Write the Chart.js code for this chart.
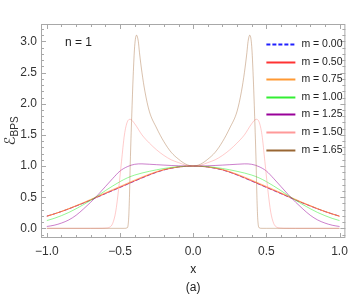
<!DOCTYPE html>
<html>
<head>
<meta charset="utf-8">
<script src="https://cdn.jsdelivr.net/npm/chart.js@4.4.0/dist/chart.umd.min.js"></script>
<style>
  html, body { margin: 0; padding: 0; background: #fff; }
</style>
</head>
<body>
<canvas id="energyChart" width="354" height="300"></canvas>
<script>
// series labels
const massLabels = ["m = 0.00", "m = 0.50", "m = 0.75", "m = 1.00", "m = 1.25", "m = 1.50", "m = 1.65"];

// common x grid for the smooth curves
const xSmooth = [
  -1.0, -0.95, -0.9, -0.85, -0.8, -0.75, -0.7, -0.65, -0.6, -0.55, -0.5,
  -0.45, -0.4, -0.35, -0.3, -0.25, -0.2, -0.15, -0.1, -0.05, 0.0,
  0.05, 0.1, 0.15, 0.2, 0.25, 0.3, 0.35, 0.4, 0.45, 0.5,
  0.55, 0.6, 0.65, 0.7, 0.75, 0.8, 0.85, 0.9, 0.95, 1.0
];

const yM000 = [
  0.197, 0.232, 0.271, 0.313, 0.359, 0.405, 0.454, 0.505, 0.556, 0.606, 0.656,
  0.707, 0.758, 0.808, 0.856, 0.9, 0.937, 0.964, 0.984, 0.996, 1.0,
  0.996, 0.984, 0.964, 0.937, 0.9, 0.856, 0.808, 0.758, 0.707, 0.656,
  0.606, 0.556, 0.505, 0.454, 0.405, 0.359, 0.313, 0.271, 0.232, 0.197
];
const yM050 = [
  0.195, 0.231, 0.27, 0.313, 0.36, 0.406, 0.456, 0.508, 0.56, 0.61, 0.66,
  0.711, 0.762, 0.812, 0.86, 0.903, 0.94, 0.966, 0.985, 0.996, 1.0,
  0.996, 0.985, 0.966, 0.94, 0.903, 0.86, 0.812, 0.762, 0.711, 0.66,
  0.61, 0.56, 0.508, 0.456, 0.406, 0.36, 0.313, 0.27, 0.231, 0.195
];
const yM075 = [
  0.193, 0.231, 0.272, 0.317, 0.365, 0.413, 0.465, 0.518, 0.571, 0.622, 0.673,
  0.724, 0.775, 0.824, 0.87, 0.911, 0.946, 0.97, 0.987, 0.997, 1.0,
  0.997, 0.987, 0.97, 0.946, 0.911, 0.87, 0.824, 0.775, 0.724, 0.673,
  0.622, 0.571, 0.518, 0.465, 0.413, 0.365, 0.317, 0.272, 0.231, 0.193
];
const yM100 = [
  0.125, 0.16, 0.204, 0.255, 0.315, 0.38, 0.45, 0.525, 0.605, 0.68, 0.75,
  0.81, 0.855, 0.888, 0.915, 0.94, 0.961, 0.978, 0.99, 0.998, 1.0,
  0.998, 0.99, 0.978, 0.961, 0.94, 0.915, 0.888, 0.855, 0.81, 0.75,
  0.68, 0.605, 0.525, 0.45, 0.38, 0.315, 0.255, 0.204, 0.16, 0.125
];
const yM125 = [
  0.03, 0.05, 0.085, 0.135, 0.21, 0.31, 0.42, 0.54, 0.67, 0.8, 0.92,
  0.99, 1.028, 1.035, 1.029, 1.022, 1.015, 1.009, 1.004, 1.001, 1.0,
  1.001, 1.004, 1.009, 1.015, 1.022, 1.029, 1.035, 1.028, 0.99, 0.92,
  0.8, 0.67, 0.54, 0.42, 0.31, 0.21, 0.135, 0.085, 0.05, 0.03
];

// the two largest masses have sharp peaks, so their own x points
const xM150 = [
  -1.0, -0.7, -0.62, -0.6, -0.57, -0.55, -0.53, -0.51, -0.49, -0.47, -0.45, -0.43,
  -0.4, -0.35, -0.3, -0.25, -0.2, -0.15, -0.1, -0.05, 0.0,
  0.05, 0.1, 0.15, 0.2, 0.25, 0.3, 0.35, 0.4,
  0.43, 0.45, 0.47, 0.49, 0.51, 0.53, 0.55, 0.57, 0.6, 0.62, 0.7, 1.0
];
const yM150 = [
  0.0, 0.0, 0.001, 0.004, 0.02, 0.08, 0.26, 0.62, 1.07, 1.5, 1.71, 1.75,
  1.68, 1.5, 1.37, 1.26, 1.17, 1.1, 1.055, 1.013, 1.0,
  1.013, 1.055, 1.1, 1.17, 1.26, 1.37, 1.5, 1.68,
  1.75, 1.71, 1.5, 1.07, 0.62, 0.26, 0.08, 0.02, 0.004, 0.001, 0.0, 0.0
];
const xM165 = [
  -1.0, -0.7, -0.5, -0.47, -0.45, -0.445, -0.44, -0.435, -0.43, -0.42, -0.41, -0.4,
  -0.387, -0.375, -0.367, -0.35, -0.33, -0.3, -0.25, -0.2, -0.15, -0.1, -0.05, 0.0,
  0.05, 0.1, 0.15, 0.2, 0.25, 0.3, 0.33, 0.35, 0.367, 0.375, 0.387,
  0.4, 0.41, 0.42, 0.43, 0.435, 0.44, 0.445, 0.45, 0.47, 0.5, 0.7, 1.0
];
const yM165 = [
  0.0, 0.0, 0.0, 0.0, 0.01, 0.05, 0.2, 0.55, 1.05, 1.8, 2.45, 2.92,
  3.1, 3.0, 2.82, 2.5, 2.2, 1.88, 1.61, 1.39, 1.22, 1.11, 1.03, 1.0,
  1.03, 1.11, 1.22, 1.39, 1.61, 1.88, 2.2, 2.5, 2.82, 3.0, 3.1,
  2.92, 2.45, 1.8, 1.05, 0.55, 0.2, 0.05, 0.01, 0.0, 0.0, 0.0, 0.0
];

const xTickValues = [-1.0, -0.5, 0.0, 0.5, 1.0];
const yTickValues = [0.0, 0.5, 1.0, 1.5, 2.0, 2.5, 3.0];

const seriesX = [xSmooth, xSmooth, xSmooth, xSmooth, xSmooth, xM150, xM165];
const seriesY = [yM000, yM050, yM075, yM100, yM125, yM150, yM165];

const legendColors = ["#2020ff", "#ff3333", "#ff9933", "#33ee33", "#990099", "#ff9999", "#996633"];
const lineColors = [
  "rgba(30, 30, 255, 0.6)",
  "rgba(255, 40, 40, 0.75)",
  "rgba(255, 150, 50, 0.6)",
  "rgba(60, 240, 60, 0.55)",
  "rgba(153, 0, 153, 0.5)",
  "rgba(255, 140, 140, 0.45)",
  "rgba(160, 100, 50, 0.4)",
];

Chart.defaults.font.family = "'Liberation Sans', Arial, sans-serif";
Chart.defaults.color = "#333";

function minusSign(v) {
  return v.toFixed(1).replace("-", "\u2212");
}

// frame with inward ticks on all four sides, like the original plot
const framePlugin = {
  id: "frame",
  afterDraw(chart) {
    const ctx = chart.ctx;
    const area = chart.chartArea;
    const xs = chart.scales.x;
    const ys = chart.scales.y;
    ctx.save();
    ctx.strokeStyle = "#a8a8a8";
    ctx.lineWidth = 1;
    ctx.strokeRect(area.left + 0.5, area.top + 0.5, area.right - area.left - 1, area.bottom - area.top - 1);

    ctx.beginPath();
    for (let i = -10; i <= 10; i++) {
      const v = i / 10;
      const px = Math.round(xs.getPixelForValue(v)) + 0.5;
      const len = i % 5 === 0 ? 5 : 3;
      ctx.moveTo(px, area.bottom);
      ctx.lineTo(px, area.bottom - len);
      ctx.moveTo(px, area.top);
      ctx.lineTo(px, area.top + len);
    }
    for (let i = -1; i <= 32; i++) {
      const v = i / 10;
      const py = Math.round(ys.getPixelForValue(v)) + 0.5;
      if (py < area.top || py > area.bottom) continue;
      const len = i % 5 === 0 ? 5 : 3;
      ctx.moveTo(area.left, py);
      ctx.lineTo(area.left + len, py);
      ctx.moveTo(area.right, py);
      ctx.lineTo(area.right - len, py);
    }
    ctx.stroke();

    // y axis title: script E with subscript BPS
    ctx.fillStyle = "#333";
    ctx.translate(11, 131);
    ctx.rotate(-Math.PI / 2);
    ctx.font = "15px 'DejaVu Sans', sans-serif";
    const wE = ctx.measureText("\u2130").width;
    ctx.font = "10px 'Liberation Sans', Arial, sans-serif";
    const wSub = ctx.measureText("BPS").width;
    const start = -(wE + wSub) / 2;
    ctx.textBaseline = "alphabetic";
    ctx.font = "15px 'DejaVu Sans', sans-serif";
    ctx.fillText("\u2130", start, 4);
    ctx.font = "10px 'Liberation Sans', Arial, sans-serif";
    ctx.fillText("BPS", start + wE, 7);
    ctx.restore();

    // n = 1 label
    ctx.save();
    ctx.fillStyle = "#222";
    ctx.font = "12px 'Liberation Sans', Arial, sans-serif";
    ctx.textBaseline = "middle";
    ctx.fillText("n = 1", area.left + 24, area.top + 19);

    // legend inside the plot, top right
    ctx.font = "10.5px 'Liberation Sans', Arial, sans-serif";
    for (let i = 0; i < massLabels.length; i++) {
      const y = Math.round(area.top + 20 + i * 17.6) + 0.5;
      ctx.beginPath();
      ctx.strokeStyle = legendColors[i];
      ctx.lineWidth = 2;
      ctx.setLineDash(i === 0 ? [4, 2] : []);
      ctx.moveTo(area.right - 79, y);
      ctx.lineTo(area.right - 50, y);
      ctx.stroke();
      ctx.fillStyle = "#222";
      ctx.fillText(massLabels[i], area.right - 44, y);
    }
    ctx.restore();
  },
};

const datasets = seriesY.map((ys, index) => {
  return {
    label: massLabels[index],
    data: ys.map((y, j) => ({ x: seriesX[index][j], y: y })),
    borderColor: lineColors[index],
    borderWidth: 1,
    borderDash: index === 0 ? [4, 2] : [],
    pointRadius: 0,
    cubicInterpolationMode: "monotone",
    fill: false,
    order: massLabels.length - index,
  };
});

const ctx = document.getElementById("energyChart").getContext("2d");
new Chart(ctx, {
  type: "line",
  data: { datasets: datasets },
  options: {
    responsive: false,
    animation: false,
    devicePixelRatio: 1,
    layout: { padding: { top: 24, right: 7, left: 0, bottom: 0 } },
    plugins: { legend: { display: false }, tooltip: { enabled: false } },
    scales: {
      x: {
        type: "linear",
        min: -1.04,
        max: 1.04,
        grid: { display: false, drawTicks: false },
        border: { display: false },
        afterBuildTicks: (scale) => {
          scale.ticks = xTickValues.map((v) => ({ value: v }));
        },
        afterFit: (scale) => {
          scale.height = 62;
        },
        ticks: {
          padding: 6,
          maxRotation: 0,
          font: { size: 12 },
          color: "#333",
          callback: (v) => minusSign(v),
        },
        title: {
          display: true,
          text: ["x", "(a)"],
          color: "#222",
          font: { size: 12, lineHeight: 1.5 },
          padding: { top: 0, bottom: 3 },
        },
      },
      y: {
        type: "linear",
        min: -0.155,
        max: 3.28,
        grid: { display: false, drawTicks: false },
        border: { display: false },
        afterBuildTicks: (scale) => {
          scale.ticks = yTickValues.map((v) => ({ value: v }));
        },
        afterFit: (scale) => {
          scale.width = 41;
        },
        ticks: {
          padding: 4,
          font: { size: 12 },
          color: "#333",
          callback: (v) => minusSign(v),
        },
      },
    },
  },
  plugins: [framePlugin],
});
</script>
</body>
</html>
